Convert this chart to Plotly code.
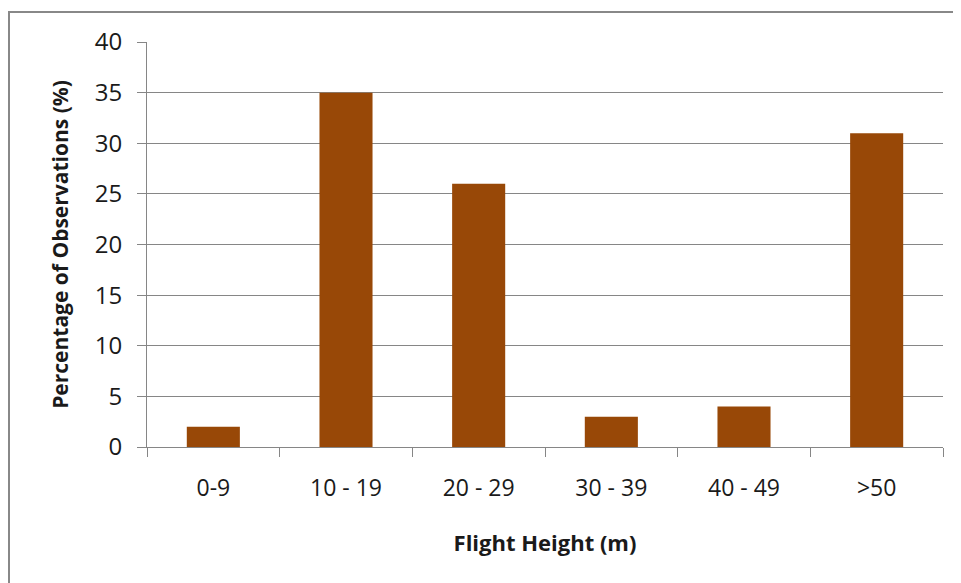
import plotly.graph_objects as go

categories = ["0-9", "10 - 19", "20 - 29", "30 - 39", "40 - 49", ">50"]
values = [2, 35, 26, 3, 4, 31]
y_ticks = [0, 5, 10, 15, 20, 25, 30, 35, 40]

# page body has an 8px margin; figure sized/positioned to compensate
OFF = 8
W, H = 961 - OFF, 583 - OFF
L, R, T, B = 147 - OFF, 18, 42 - OFF, 136
pw = W - L - R
ph = H - T - B

fig = go.Figure(go.Bar(
    x=categories, y=values,
    marker=dict(color="#984807", line=dict(width=0)),
))

def px_x(px):
    return (px - OFF - L) / pw

def px_y(py):
    return (H - B - (py - OFF)) / ph

fig.update_layout(
    width=W, height=H,
    margin=dict(l=L, r=R, t=T, b=B, autoexpand=False),
    paper_bgcolor="white", plot_bgcolor="white",
    bargap=0.6,
    font=dict(family="Open Sans, Noto Sans, sans-serif", size=24, color="#1a1a1a"),
    showlegend=False,
    xaxis=dict(
        type="category",
        showgrid=False,
        showline=True, linecolor="#868686", linewidth=1,
        ticks="outside", ticklen=9, tickcolor="#868686", tickson="boundaries",
        tickfont=dict(size=23),
        ticklabelstandoff=20,
        title=dict(text="<b>Flight Height (m)</b>", font=dict(size=22), standoff=34),
    ),
    yaxis=dict(
        range=[0, 40], tickvals=y_ticks,
        showgrid=True, gridcolor="#868686", gridwidth=1,
        showline=True, linecolor="#868686", linewidth=1,
        ticks="outside", ticklen=9, tickcolor="#868686",
        tickfont=dict(size=24),
        ticklabelstandoff=10,
        zeroline=False,
        title=dict(text="<b>Percentage of Observations (%)</b>", font=dict(size=21), standoff=20),
    ),
    shapes=[dict(
        type="rect", xref="paper", yref="paper",
        x0=px_x(9), x1=px_x(985), y0=px_y(610), y1=px_y(12),
        line=dict(color="#888888", width=2), fillcolor="rgba(0,0,0,0)", layer="below",
    )],
)

fig.write_html("out.html")
